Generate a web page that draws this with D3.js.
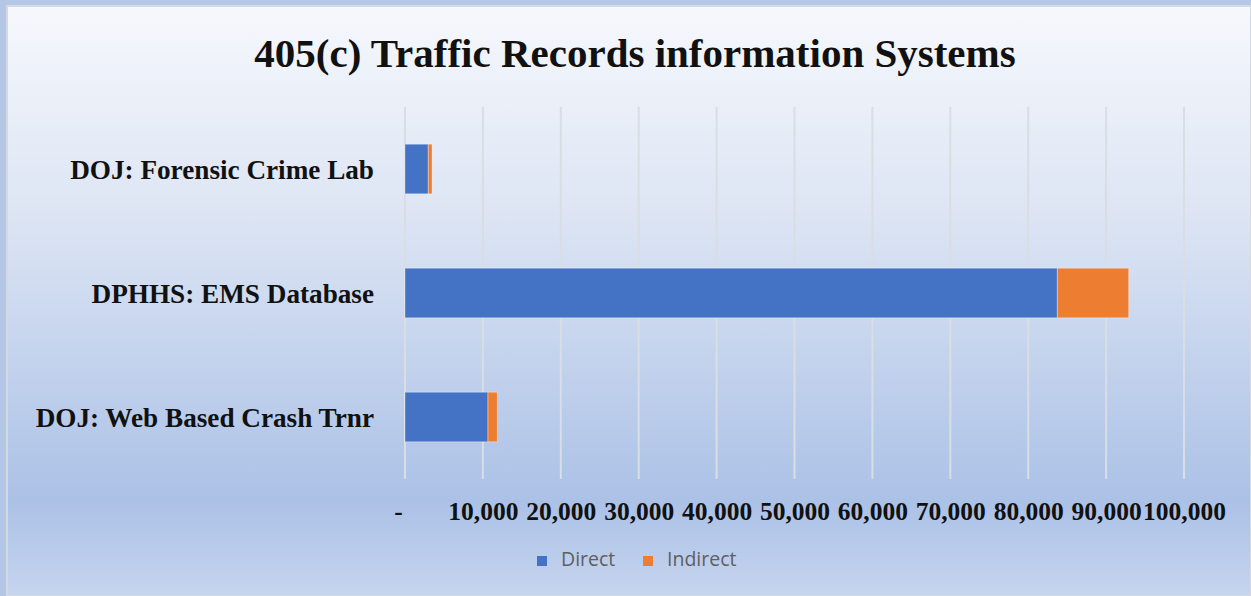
<!DOCTYPE html>
<html lang="en">
<head>
    <meta charset="UTF-8">
    <title>405(c) Traffic Records information Systems</title>
    <script src="https://d3js.org/d3.v7.min.js"></script>
    <style>
        body { margin: 0; background: #b4c7e7; }
        svg { display: block; }
    </style>
</head>
<body>
<script>
    // data
    var categories = ["DOJ: Forensic Crime Lab", "DPHHS: EMS Database", "DOJ: Web Based Crash Trnr"];
    var direct = [2990, 83740, 10650];
    var indirect = [480, 9160, 1200];
    var seriesNames = ["Direct", "Indirect"];
    var seriesColours = ["#4472c4", "#ed7d31"];
    var tickValues = [0, 10000, 20000, 30000, 40000, 50000, 60000, 70000, 80000, 90000, 100000];

    var width = 1251, height = 596;

    var svg = d3.select("body").append("svg")
        .attr("width", width)
        .attr("height", height);

    var defs = svg.append("defs");
    var grad = defs.append("linearGradient")
        .attr("id", "bg")
        .attr("x1", 0).attr("y1", 0).attr("x2", 0).attr("y2", 1);
    grad.append("stop").attr("offset", "0%").attr("stop-color", "#f6f8fc");
    grad.append("stop").attr("offset", "35%").attr("stop-color", "#dde5f4");
    grad.append("stop").attr("offset", "84%").attr("stop-color", "#abc1e6");
    grad.append("stop").attr("offset", "100%").attr("stop-color", "#c6d5ef");

    // chart area frame
    svg.append("rect")
        .attr("x", 7).attr("y", 6)
        .attr("width", width - 7).attr("height", height - 6)
        .attr("fill", "url(#bg)")
        .attr("stroke", "#d4d9e2")
        .attr("stroke-width", 2);

    var margin = {left: 405, right: 67, top: 107, bottom: 117};

    var x = d3.scaleLinear()
        .domain([0, 100000])
        .range([margin.left, width - margin.right]);

    var y = d3.scaleBand()
        .domain(categories)
        .range([margin.top, height - margin.bottom])
        .paddingInner(0.6)
        .paddingOuter(0.3);

    var serif = "'Liberation Serif', 'DejaVu Serif', serif";

    // title
    svg.append("text")
        .attr("x", 635)
        .attr("y", 67)
        .attr("text-anchor", "middle")
        .style("font-family", serif)
        .style("font-weight", "bold")
        .style("font-size", "41px")
        .style("fill", "#111")
        .text("405(c) Traffic Records information Systems");

    // gridlines
    svg.append("g")
        .selectAll("line")
        .data(tickValues)
        .enter()
        .append("line")
        .attr("x1", function(d) { return x(d); })
        .attr("x2", function(d) { return x(d); })
        .attr("y1", margin.top)
        .attr("y2", height - margin.bottom)
        .attr("stroke", "#d9dde4")
        .attr("stroke-width", 2);

    // stacked bars
    var rows = categories.map(function(c, i) {
        return {cat: c, Direct: direct[i], Indirect: indirect[i]};
    });
    var stack = d3.stack().keys(seriesNames)(rows);

    svg.append("g")
        .selectAll("g")
        .data(stack)
        .enter()
        .append("g")
        .attr("fill", function(d, i) { return seriesColours[i]; })
        .selectAll("rect")
        .data(function(d) { return d; })
        .enter()
        .append("rect")
        .attr("x", function(d) { return x(d[0]); })
        .attr("width", function(d) { return x(d[1]) - x(d[0]); })
        .attr("y", function(d) { return y(d.data.cat); })
        .attr("height", y.bandwidth())
        .attr("stroke", "rgba(255,255,255,0.35)")
        .attr("stroke-width", 1);

    // category labels
    svg.append("g")
        .selectAll("text")
        .data(categories)
        .enter()
        .append("text")
        .attr("x", 374)
        .attr("y", function(d) { return y(d) + y.bandwidth() / 2; })
        .attr("dy", "0.35em")
        .attr("text-anchor", "end")
        .style("font-family", serif)
        .style("font-weight", "bold")
        .style("font-size", "27.2px")
        .style("fill", "#111")
        .text(function(d) { return d; });

    // x axis tick labels
    var fmt = d3.format(",");
    var xAxis = d3.axisBottom(x)
        .tickValues(tickValues)
        .tickSize(0)
        .tickPadding(0)
        .tickFormat(function(d) { return d === 0 ? "-" : fmt(d); });

    var gx = svg.append("g")
        .attr("transform", "translate(0," + 520 + ")")
        .call(xAxis);
    gx.select(".domain").remove();
    gx.selectAll("text")
        .attr("dy", "0")
        .attr("dx", function(d) { return d === 0 ? -7 : 0; })
        .style("font-family", serif)
        .style("font-weight", "bold")
        .style("font-size", "25.5px")
        .style("fill", "#111");

    // legend
    var legendX = [537, 643];
    var legend = svg.append("g")
        .selectAll("g")
        .data(seriesNames)
        .enter()
        .append("g")
        .attr("transform", function(d, i) { return "translate(" + legendX[i] + ",556)"; });
    legend.append("rect")
        .attr("width", 10).attr("height", 10)
        .attr("fill", function(d, i) { return seriesColours[i]; });
    legend.append("text")
        .attr("x", 24)
        .attr("y", 10)
        .style("font-family", "'Open Sans', 'Liberation Sans', sans-serif")
        .style("font-size", "19.5px")
        .style("fill", "#5f5f5f")
        .text(function(d) { return d; });
</script>
</body>
</html>
